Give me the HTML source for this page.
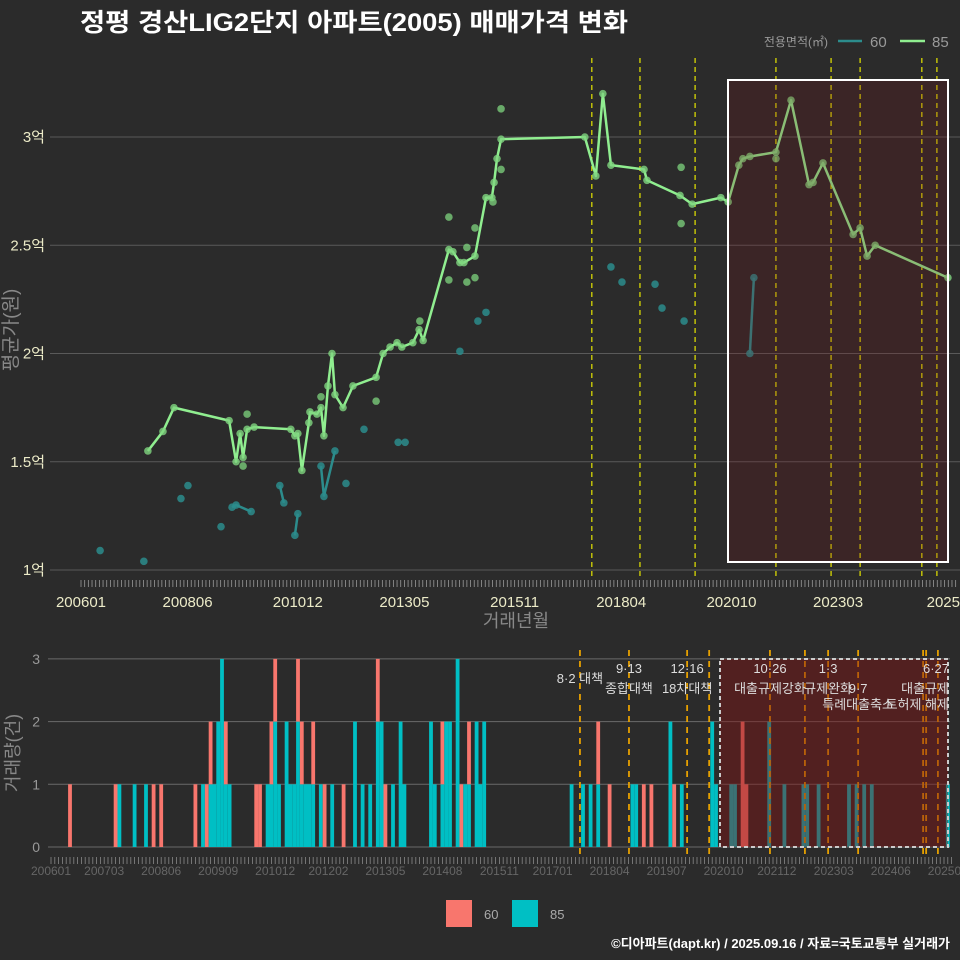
<!DOCTYPE html>
<html><head><meta charset="utf-8">
<style>
html,body{margin:0;padding:0;background:#2b2b2b;}
svg{display:block;font-family:"Liberation Sans","Noto Sans CJK KR",sans-serif;}
</style></head>
<body>
<svg id="c" width="960" height="960" viewBox="0 0 960 960">
<rect width="960" height="960" fill="#2b2b2b"/>
<text x="80" y="31" fill="#ffffff" font-size="25" font-weight="bold" textLength="548" lengthAdjust="spacingAndGlyphs">정평 경산LIG2단지 아파트(2005) 매매가격 변화</text>
<g>
<text x="828" y="46" fill="#999" font-size="12" text-anchor="end">전용면적(㎡)</text>
<line x1="838" y1="41" x2="862" y2="41" stroke="#2c8c8c" stroke-width="2.5"/>
<text x="870" y="47" fill="#999" font-size="15">60</text>
<line x1="900" y1="41" x2="925" y2="41" stroke="#90ee90" stroke-width="2.5"/>
<text x="932" y="47" fill="#999" font-size="15">85</text>
</g>
<g id="topPanel"></g>
<g id="botPanel"></g>
<g>
<rect x="446" y="900" width="26" height="27" fill="#f8766d"/>
<text x="484" y="919" fill="#aaa" font-size="13">60</text>
<rect x="512" y="900" width="26" height="27" fill="#00bfc4"/>
<text x="550" y="919" fill="#aaa" font-size="13">85</text>
</g>
<text x="950" y="948" fill="#fff" font-size="13" font-weight="bold" text-anchor="end">©디아파트(dapt.kr) / 2025.09.16 / 자료=국토교통부 실거래가</text>
</svg>
<script>
const m85 = [18.2,22.3,25.3,40.3,42.2,43.3,44.1,45.2,47.1,57.1,58.2,59.0,60.1,62.0,62.3,64.2,65.3,66.1,67.2,68.3,69.1,71.3,74.0,80.3,82.2,84.1,86.0,87.3,90.3,92.0,93.1,100.1,101.2,103.1,104.2,107.2,110.2,111.8,112.4,113.2,114.3,137.1,140.1,142.0,144.2,153.2,154.0,163.0,166.3,174.1,176.1,179.0,180.1,182.0,189.1,193.2,198.1,199.2,201.9,210.1,212.0,213.9,216.1,235.9];
const v85 = [1.55,1.64,1.75,1.69,1.50,1.63,1.52,1.65,1.66,1.65,1.62,1.63,1.46,1.68,1.73,1.72,1.75,1.62,1.85,2.00,1.81,1.75,1.85,1.89,2.00,2.03,2.05,2.03,2.05,2.11,2.06,2.48,2.47,2.42,2.42,2.45,2.72,2.72,2.79,2.90,2.99,3.00,2.82,3.20,2.87,2.85,2.80,2.73,2.69,2.72,2.70,2.87,2.90,2.91,2.93,3.17,2.78,2.79,2.88,2.55,2.58,2.45,2.50,2.35];
const m85extra = [45.2,44.1,65.3,80.3,92.2,100.1,100.1,105.0,107.2,105.0,107.2,114.3,114.3,112.1,163.3,163.3,189.1];
const v85extra = [1.72,1.48,1.80,1.78,2.15,2.63,2.34,2.49,2.58,2.33,2.35,3.13,2.85,2.70,2.86,2.60,2.90];
const m60 = [5.2,17.1,27.2,29.1,38.1,41.1,42.2,46.3,54.1,55.2,58.2,59.0,65.3,66.1,69.1,72.1,77.0,86.3,88.2,103.1,108.0,110.2,144.2,147.2,156.2,158.1,164.1,182.0,183.1];
const v60 = [1.09,1.04,1.33,1.39,1.20,1.29,1.30,1.27,1.39,1.31,1.16,1.26,1.48,1.34,1.55,1.40,1.65,1.59,1.59,2.01,2.15,2.19,2.40,2.33,2.32,2.21,2.15,2.00,2.35];
const g60 = [0,1,2,3,4,5,5,5,6,6,7,7,8,8,8,9,10,11,12,13,14,15,16,17,18,19,20,21,21];
const yTicks = [1,1.5,2,2.5,3];
const yTickLabels = ['1억','1.5억','2억','2.5억','3억'];
const xTickMonths = [0,29,59,88,118,147,177,206,235];
const xTickLabels = ['200601','200806','201012','201305','201511','201804','202010','202303','2025'];
const policyTop = [139,152.1,167.1,189.1,204.1,212,228.8,232.9];
const barMonths = [5,17,18,22,25,27,29,38,40,41,42,43,44,45,46,47,54,55,57,58,59,60,62,63,64,65,66,67,68,69,71,72,74,77,80,82,84,86,87,88,90,92,93,100,101,103,104,105,107,108,109,110,112,113,114,137,140,142,144,147,153,154,156,158,163,164,166,174,175,179,180,182,183,189,193,198,199,202,210,212,214,216,236];
const cnt85 = [0,0,1,1,1,0,0,0,1,0,1,1,2,3,1,1,0,0,1,1,2,1,2,1,1,2,1,1,1,1,1,0,1,0,2,1,1,2,2,0,1,2,1,2,1,1,2,2,3,0,1,1,2,1,2,1,1,1,1,0,1,1,0,0,2,0,1,2,1,1,1,0,0,2,1,1,1,1,1,1,1,1,1];
const cnt60 = [1,1,0,0,0,1,1,1,0,1,1,0,0,0,1,0,1,1,0,1,1,0,0,0,0,1,1,0,0,1,0,1,0,1,0,0,0,1,0,1,0,0,0,0,0,1,0,0,0,1,0,1,0,0,0,0,0,0,1,1,0,0,1,1,0,1,0,0,0,0,0,2,1,0,0,0,0,0,0,0,0,0,0];
const volTicks = [0,1,2,3];
const botTickMonths = [0,14,29,44,59,73,88,103,118,132,147,162,177,191,206,221,236];
const botTickLabels = ['200601','200703','200806','200909','201012','201202','201305','201408','201511','201701','201804','201907','202010','202112','202303','202406','202509'];
const policyBot = [139.2,152.1,167.4,173.2,189.2,198.4,204.5,212.4,229.5,230.3,233.4];
const policyText = [
 {m:139.2,lines:['8·2 대책'],y0:683},
 {m:152.1,lines:['9·13','종합대책'],y0:673},
 {m:167.4,lines:['12·16','18차대책'],y0:673},
 {m:189.2,lines:['10·26','대출규제강화'],y0:673},
 {m:204.5,lines:['1·3','규제완화'],y0:673},
 {m:212.4,lines:['9·7','특례대출축소'],y0:693},
 {m:229.5,lines:['토허제 해제'],y0:709},
 {m:233.4,lines:['6·27','대출규제'],y0:673}
];

const xT = m => 81 + 3.675*m;
const yT = v => 570 - (v-1)*216.5;
const xB = m => 51 + 3.8*m;
const yB = c => 847 - c*62.7;
const NS='http://www.w3.org/2000/svg';
function mk(parent,tag,attrs){const e=document.createElementNS(NS,tag);for(const k in attrs)e.setAttribute(k,attrs[k]);parent.appendChild(e);return e;}
const topG=document.getElementById('topPanel'), botG=document.getElementById('botPanel');

yTicks.forEach((v,i)=>{
 const l=mk(topG,'line',{x1:50,x2:960,y1:yT(v),y2:yT(v),stroke:'#5a5a5a','stroke-width':1});
 
 
 const t=mk(topG,'text',{x:45,y:yT(v)+5,fill:'#ecebc8','font-size':15,'text-anchor':'end'});
 t.textContent=yTickLabels[i];
 
 
});
for(let m=0;m<=238;m++){
 const l=mk(topG,'line',{x1:xT(m),x2:xT(m),y1:580,y2:587,stroke:'#999','stroke-width':0.8});
 
 
}
xTickMonths.forEach((m,i)=>{
 let x=xT(m),anchor='middle';
 if(i===xTickLabels.length-1){x=960;anchor='end';}
 const t=mk(topG,'text',{x:x,y:607,fill:'#ecebc8','font-size':15,'text-anchor':anchor});
 t.textContent=xTickLabels[i];
 
 
});
let tx=mk(topG,'text',{x:516,y:627,fill:'#888','font-size':18,'text-anchor':'middle'});
tx.textContent='거래년월';


tx=mk(topG,'text',{x:0,y:0,fill:'#888','font-size':19,'text-anchor':'middle',transform:'translate(17,330) rotate(-90)'});
tx.textContent='평균가(원)';


policyTop.forEach(m=>{
 const l=mk(topG,'line',{x1:xT(m),x2:xT(m),y1:58,y2:580,stroke:'#e6e600','stroke-width':1.2,'stroke-dasharray':'5,4'});
 
 
});
const groups={};
m60.forEach((m,i)=>{(groups[g60[i]]=groups[g60[i]]||[]).push([xT(m),yT(v60[i])]);});
Object.values(groups).forEach(pts=>{
 if(pts.length>1){
  const p=mk(topG,'polyline',{points:pts.map(p=>p.join(',')).join(' '),fill:'none',stroke:'#2c8c8c','stroke-width':2.5});
  
  
 }
});
m60.forEach((m,i)=>{
 const c=mk(topG,'circle',{cx:xT(m),cy:yT(v60[i]),r:3.8,fill:'#2c8c8c','fill-opacity':0.85});
 
 
});
const pl=mk(topG,'polyline',{points:m85.map((m,i)=>xT(m)+','+yT(v85[i])).join(' '),fill:'none',stroke:'#90ee90','stroke-width':2.5,'stroke-linejoin':'round'});


m85.forEach((m,i)=>{
 const c=mk(topG,'circle',{cx:xT(m),cy:yT(v85[i]),r:3.8,fill:'#7fd67f','fill-opacity':0.8});
 
 
});
m85extra.forEach((m,i)=>{
 const c=mk(topG,'circle',{cx:xT(m),cy:yT(v85extra[i]),r:3.8,fill:'#7fd67f','fill-opacity':0.75});
 
 
});
let rr=mk(topG,'rect',{x:728,y:80,width:220,height:482,fill:'rgba(120,20,25,0.22)',stroke:'#ffffff','stroke-width':2});



volTicks.forEach(c=>{
 const l=mk(botG,'line',{x1:48,x2:950,y1:yB(c),y2:yB(c),stroke:'#6a6a6a','stroke-width':1});
 
 
 const tt=mk(botG,'text',{x:40,y:yB(c)+5,fill:'#999','font-size':14,'text-anchor':'end'});
 tt.textContent=String(c);
 
 
});
for(let m=0;m<=237;m++){
 const l=mk(botG,'line',{x1:xB(m),x2:xB(m),y1:857,y2:864,stroke:'#888','stroke-width':0.8});
 
 
}
botTickMonths.forEach((m,i)=>{
 const tt=mk(botG,'text',{x:xB(m),y:875,fill:'#666','font-size':12,'text-anchor':'middle'});
 tt.textContent=botTickLabels[i];
 
 
});
tx=mk(botG,'text',{x:0,y:0,fill:'#888','font-size':18,'text-anchor':'middle',transform:'translate(19,753) rotate(-90)'});
tx.textContent='거래량(건)';


barMonths.forEach((m,i)=>{
 const x=xB(m)-1.9;
 if(cnt85[i]>0){
  const b=mk(botG,'rect',{x:x,y:yB(cnt85[i]),width:3.8,height:cnt85[i]*62.7,fill:'#00bfc4'});
  
  
 }
 if(cnt60[i]>0){
  const b=mk(botG,'rect',{x:x,y:yB(cnt85[i]+cnt60[i]),width:3.8,height:cnt60[i]*62.7,fill:'#f8766d'});
  
  
 }
});
policyBot.forEach(m=>{
 const l=mk(botG,'line',{x1:xB(m),x2:xB(m),y1:650,y2:858,stroke:'#e6a000','stroke-width':1.8,'stroke-dasharray':'6,5'});
 
 
});
rr=mk(botG,'rect',{x:720,y:659,width:228,height:188,fill:'rgba(130,20,20,0.45)',stroke:'#cccccc','stroke-width':2,'stroke-dasharray':'4,3'});


policyText.forEach(p=>{
 p.lines.forEach((s,j)=>{
  const right=xB(p.m)>920;
  const tt=mk(botG,'text',{x:right?949:xB(p.m),y:p.y0+j*16+(j>0&&p.y0===673?4:0),fill:'#dddddd','font-size':13,'text-anchor':right?'end':'middle'});
  tt.textContent=s;
  
  
 });
});
</script>
</body></html>
